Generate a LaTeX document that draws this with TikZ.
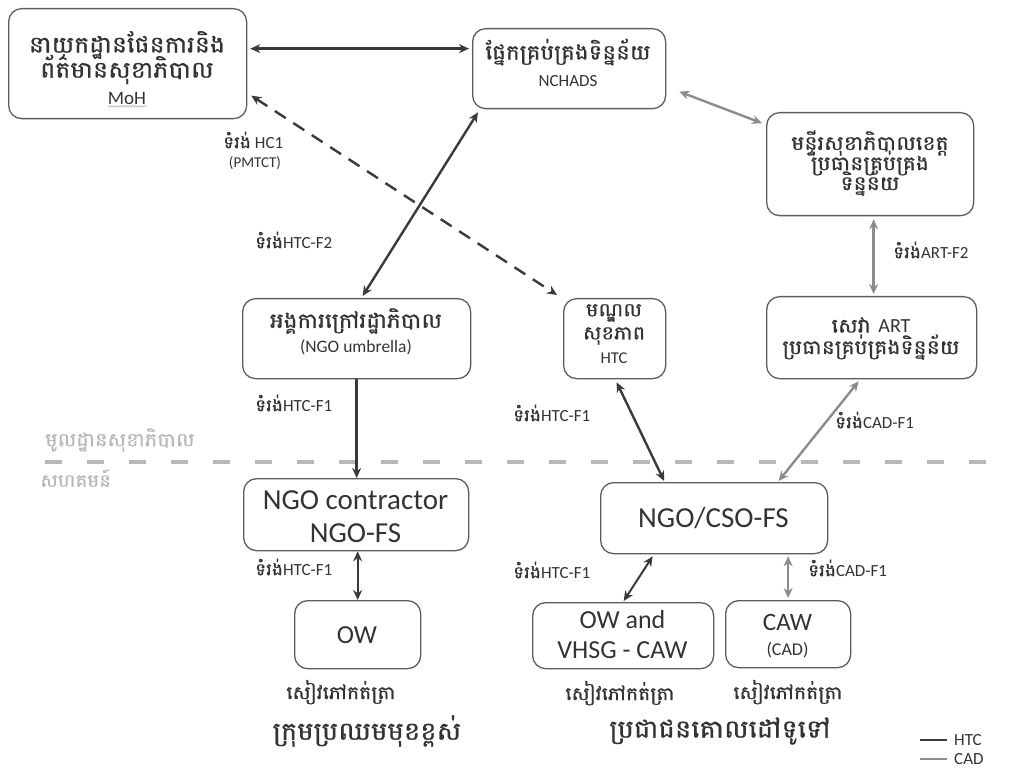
\documentclass[tikz,border=0pt]{standalone}
\usepackage{fontspec}
\setmainfont{Carlito}
\newfontfamily\kh[Script=Khmer, FakeStretch=1.1, FakeBold=0.8]{Battambang}
\usetikzlibrary{arrows.meta,decorations.pathmorphing}

\definecolor{htc}{HTML}{3A3A3A}
\definecolor{cad}{HTML}{8C8C8C}
\definecolor{frame}{HTML}{5C5C5C}
\definecolor{txt}{HTML}{333333}
\definecolor{zone}{HTML}{B8B8B8}

\newcommand\fs[1]{\fontsize{#1}{#1}\selectfont}
\newcommand\frm[1]{{\kh\fs{17}ទំរង់}#1}

\begin{document}
\begin{tikzpicture}[x=1pt,y=-1pt,
  >={Stealth[length=10pt,width=9pt]},
  box/.style={draw=frame, line width=1.3pt, rounded corners=13pt, inner sep=0pt, anchor=north west},
  khtext/.style={font=\kh\fs{#1}, text=txt, inner sep=0pt},
  lattext/.style={font=\fs{#1}, text=txt, inner sep=0pt},
  formlabel/.style={font=\fs{17}, text=txt, inner sep=0pt, anchor=west},
  htcline/.style={draw=htc, line width=2.4pt},
  cadline/.style={draw=cad, line width=2.4pt},
  zoneline/.style={draw=zone, line width=3.5pt, dash pattern=on 17pt off 25pt},
  zonetext/.style={font=\kh\fs{19}, text=zone, inner sep=0pt, anchor=west},
]
\useasboundingbox (0,0) rectangle (1011,775);

% ---- boxes ----
\node[box, minimum width=238pt, minimum height=110pt] (moh) at (8,8) {};
\node[box, minimum width=193pt, minimum height=80pt]  (nch) at (472,28) {};
\node[box, minimum width=207pt, minimum height=103pt] (phd) at (766,112) {};
\node[box, minimum width=228pt, minimum height=80pt]  (umb) at (242,298) {};
\node[box, minimum width=102pt, minimum height=80pt]  (hc)  at (563,298) {};
\node[box, minimum width=210pt, minimum height=82pt]  (art) at (766,296) {};
\node[box, minimum width=225pt, minimum height=72pt]  (con) at (243,478) {};
\node[box, minimum width=227pt, minimum height=71pt]  (cso) at (600,482) {};
\node[box, minimum width=126pt, minimum height=68pt]  (ow)  at (294,600) {};
\node[box, minimum width=181pt, minimum height=66pt]  (vhsg) at (532,602) {};
\node[box, minimum width=125pt, minimum height=67pt]  (caw) at (725,600) {};

% ---- box texts ----
\node[khtext=23] (moh1) at (127,45) {នាយកដ្ឋានផែនការនិង};
\node[khtext=23] (moh2) at (127,69) {ព័ត៌មានសុខាភិបាល};
\node[lattext=19] (moh3) at (127,98) {MoH};
\draw[decorate, decoration={snake, amplitude=0.8pt, segment length=3pt}, draw=cad!70, line width=0.6pt]
  ([yshift=-2pt]moh3.south west) -- ([yshift=-2pt]moh3.south east);

\node[khtext=21] (nch1) at (568,52) {ផ្នែកគ្រប់គ្រងទិន្នន័យ};
\node[lattext=17] (nch2) at (568,81) {NCHADS};

\node[khtext=20] (phd1) at (870,143) {មន្ទីរសុខាភិបាលខេត្ត};
\node[khtext=20] (phd2) at (870,163) {ប្រធានគ្រប់គ្រង};
\node[khtext=20] (phd3) at (870,183) {ទិន្នន័យ};

\node[khtext=21] (umb1) at (356,321) {អង្គការក្រៅរដ្ឋាភិបាល};
\node[lattext=17.5] (umb2) at (356,347) {(NGO umbrella)};

\node[khtext=19] (hc1) at (614,313) {មណ្ឌល};
\node[khtext=19] (hc2) at (614,336) {សុខភាព};
\node[lattext=16.5] (hc3) at (614,358) {HTC};

\node[khtext=20] (art1) at (871,325) {សេវា {\fontspec{Carlito}ART}};
\node[khtext=20] (art2) at (871,347) {ប្រធានគ្រប់គ្រងទិន្នន័យ};

\node[lattext=29] (con1) at (355.5,500) {NGO contractor};
\node[lattext=29] (con2) at (355.5,533) {NGO-FS};
\node[lattext=29] (cso1) at (713.5,518) {NGO/CSO-FS};
\node[lattext=26] (ow1)  at (357,635) {OW};
\node[lattext=26] (vh1)  at (622.5,620) {OW and};
\node[lattext=26] (vh2)  at (622.5,650) {VHSG - CAW};
\node[lattext=25] (caw1) at (787.5,622) {CAW};
\node[lattext=18] (caw2) at (787.5,650) {(CAD)};

% ---- zone divider ----
\coordinate (zl) at (45,462);
\coordinate (zr) at (1011,462);
\draw[zoneline] (zl) -- (zr);
\node[zonetext] (zup) at (45,440) {មូលដ្ឋានសុខាភិបាល};
\node[zonetext, font=\kh\fs{18}] (zdn) at (40,478) {សហគមន៍};

% ---- connectors ----
\draw[htcline, line width=3pt, <->] ([xshift=3pt,yshift=15pt]moh.east) -- ([xshift=-3pt,yshift=20pt]nch.west);
\draw[cadline, <->] ([xshift=13pt,yshift=-23pt]nch.east) -- ([xshift=-4pt,yshift=41pt]phd.west);
\draw[htcline, <->, dash pattern=on 13pt off 9pt] ([xshift=4pt,yshift=-32pt]moh.east) -- ([xshift=-6pt,yshift=3pt]hc.north west);
\draw[htcline, <->] ([xshift=6pt,yshift=-3pt]nch.south west) -- ([xshift=6pt,yshift=2pt]umb.north);
\draw[htcline, ->] (umb.south) -- (umb.south |- con.north);
\draw[htcline, <->] ([xshift=2pt,yshift=-3pt]hc.south) -- ([xshift=-50pt,yshift=1pt]cso.north);
\draw[cadline, <->] ([xshift=-13pt,yshift=-2pt]art.south) -- ([xshift=64.5pt,yshift=1pt]cso.north);
\draw[cadline, line width=3pt, <->] ([xshift=3.5pt,yshift=-3pt]phd.south) -- ([xshift=2pt,yshift=2pt]art.north);
\draw[htcline, line width=2pt, <->] (ow.north |- con.south) -- (ow.north);
\draw[htcline, line width=2pt, <->] ([xshift=-61.5pt,yshift=-2pt]cso.south) -- ([xshift=0.5pt,yshift=1pt]vhsg.north);
\draw[cadline, <->] ([yshift=-2pt]caw.north |- cso.south) -- ([yshift=2pt]caw.north);

% ---- form labels ----
\node[formlabel] (f1) at (223,140) {\frm{ HC1}};
\node[lattext=15] (f1b) at (255,163) {(PMTCT)};
\node[formlabel] (f2) at (255,240) {\frm{HTC-F2}};
\node[formlabel] (f3) at (255,403) {\frm{HTC-F1}};
\node[formlabel] (f4) at (513,413) {\frm{HTC-F1}};
\node[formlabel] (f5) at (893,250) {\frm{ART-F2}};
\node[formlabel] (f6) at (835,420) {\frm{CAD-F1}};
\node[formlabel] (f7) at (255,567) {\frm{HTC-F1}};
\node[formlabel] (f8) at (513,570) {\frm{HTC-F1}};
\node[formlabel] (f9) at (808,568) {\frm{CAD-F1}};

% ---- notes below the boxes ----
\node[khtext=18.5] (b1) at (341,692) {សៀវភៅកត់ត្រា};
\node[khtext=18.5] (b2) at (620,693) {សៀវភៅកត់ត្រា};
\node[khtext=18.5] (b3) at (788,692) {សៀវភៅកត់ត្រា};
\node[khtext=25] (b4) at (367,731) {ក្រុមប្រឈមមុខខ្ពស់};
\node[khtext=25] (b5) at (720,731) {ប្រជាជនគោលដៅទូទៅ};

% ---- legend ----
\coordinate (lh1) at (920,740);
\coordinate (lh2) at (947,740);
\coordinate (lc1) at (920,759);
\coordinate (lc2) at (947,759);
\draw[htcline, line width=2.5pt] (lh1) -- (lh2);
\draw[cadline, line width=2.5pt] (lc1) -- (lc2);
\node[lattext=17, anchor=west] (lhtc) at (954,740) {HTC};
\node[lattext=17, anchor=west] (lcad) at (954,759) {CAD};
\end{tikzpicture}
\end{document}
